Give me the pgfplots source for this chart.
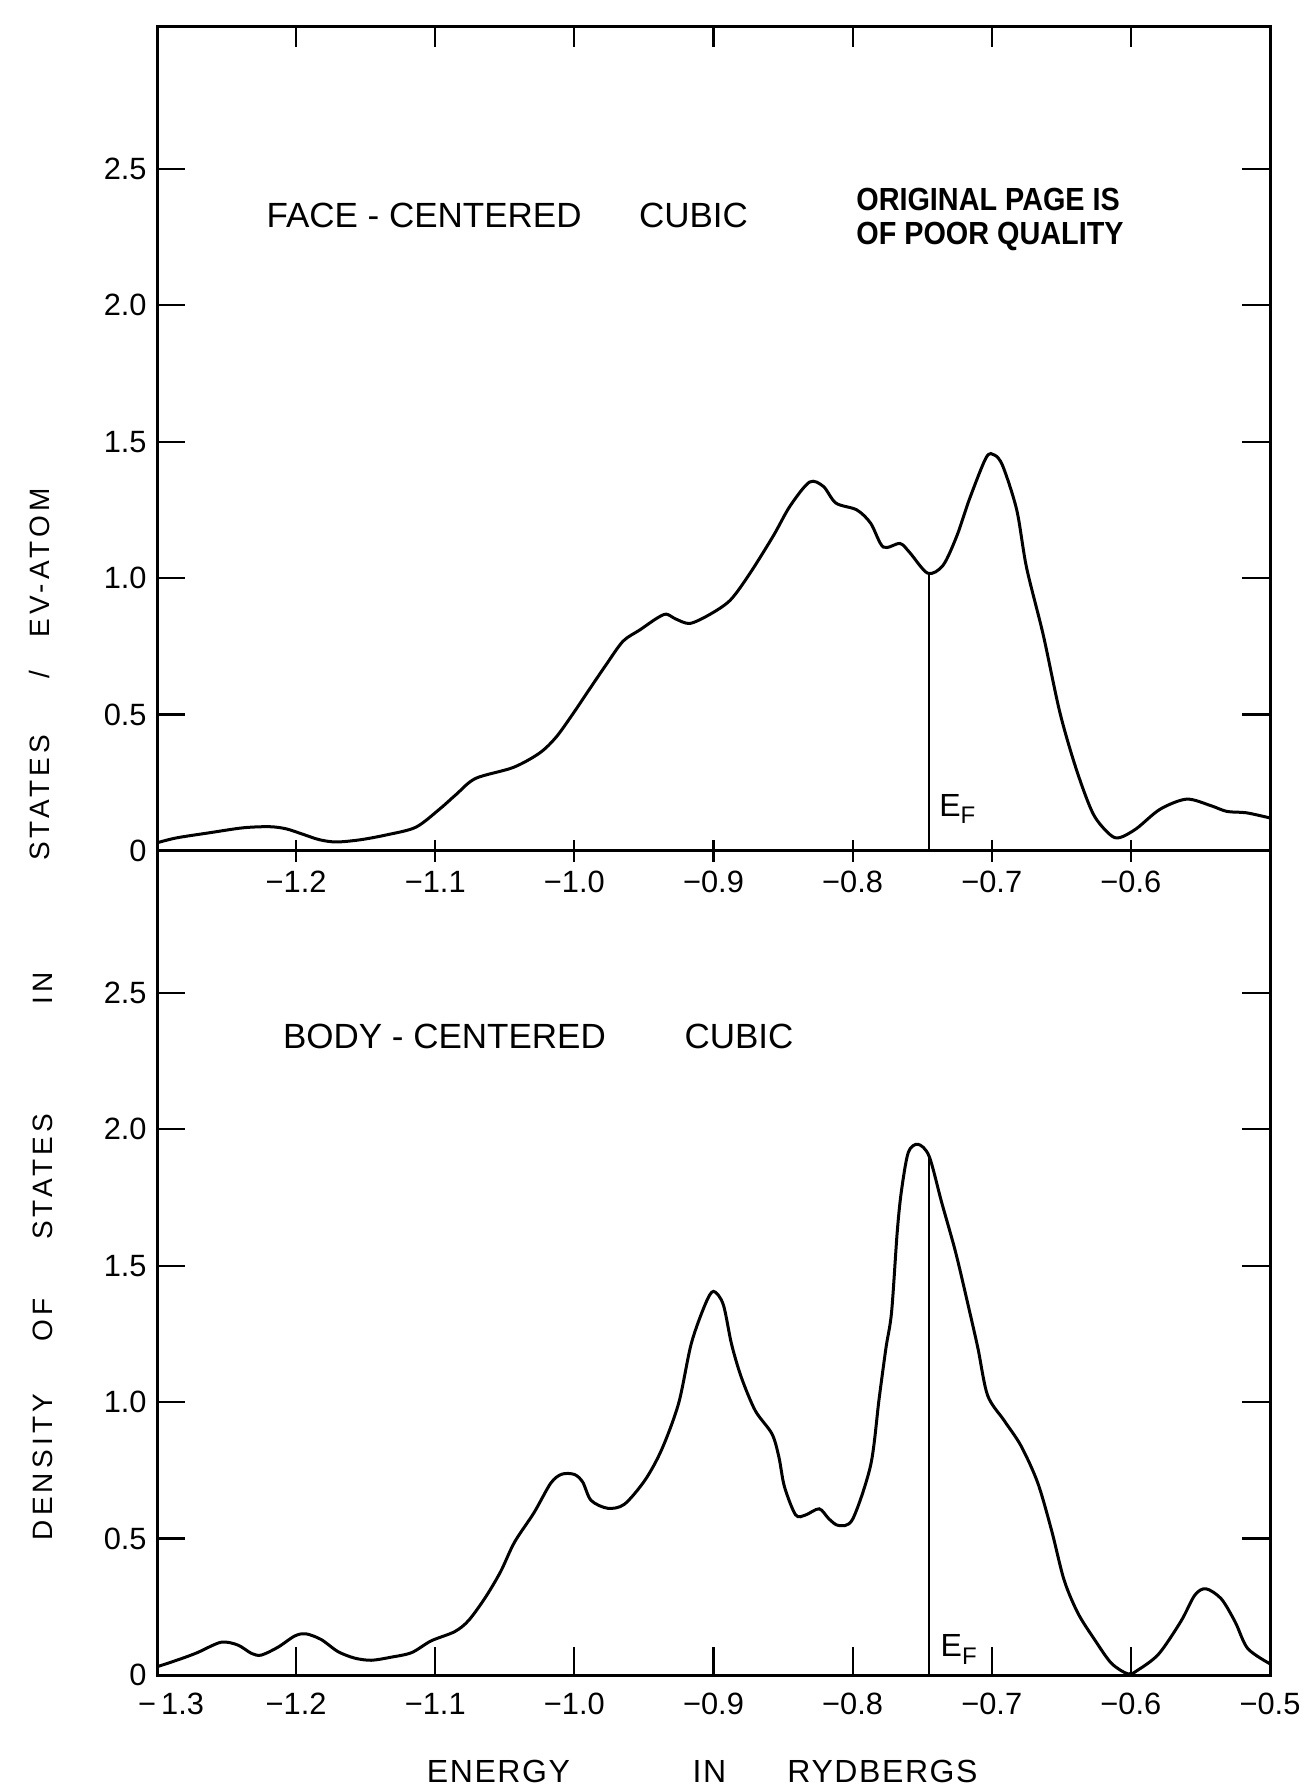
\documentclass[border=0pt]{standalone}
\usepackage{fontspec}
\setmainfont{Liberation Sans}
\newfontfamily\spaced{Liberation Sans}[LetterSpace=15]
\newfontfamily\wide{Liberation Sans}[LetterSpace=5]
\usepackage{graphicx}
\usepackage{pgfplots}
\usepackage{pgfplotstable}
\pgfplotsset{compat=1.18}

% Density of states (states / eV-atom) against energy (Ry)
\pgfplotstableread{
e      dos
-1.300 0.030
-1.286 0.048
-1.262 0.067
-1.238 0.085
-1.219 0.089
-1.207 0.081
-1.195 0.061
-1.183 0.041
-1.171 0.033
-1.154 0.041
-1.135 0.059
-1.114 0.087
-1.097 0.153
-1.085 0.207
-1.071 0.266
-1.044 0.306
-1.025 0.359
-1.013 0.418
-1.001 0.503
-0.989 0.594
-0.977 0.684
-0.965 0.769
-0.953 0.810
-0.941 0.852
-0.934 0.868
-0.927 0.850
-0.917 0.834
-0.903 0.866
-0.888 0.919
-0.874 1.016
-0.857 1.155
-0.845 1.264
-0.831 1.352
-0.821 1.336
-0.812 1.275
-0.797 1.250
-0.787 1.201
-0.778 1.114
-0.766 1.127
-0.759 1.094
-0.746 1.018
-0.735 1.047
-0.725 1.156
-0.716 1.290
-0.704 1.442
-0.698 1.451
-0.692 1.410
-0.682 1.249
-0.675 1.039
-0.663 0.792
-0.651 0.507
-0.639 0.296
-0.627 0.135
-0.615 0.060
-0.608 0.049
-0.596 0.082
-0.579 0.153
-0.560 0.190
-0.543 0.167
-0.531 0.145
-0.517 0.140
-0.500 0.121
}\fcc

\pgfplotstableread{
e      dos
-1.300 0.030
-1.283 0.059
-1.271 0.082
-1.254 0.120
-1.242 0.110
-1.232 0.079
-1.225 0.073
-1.213 0.102
-1.201 0.143
-1.193 0.151
-1.182 0.130
-1.170 0.086
-1.158 0.062
-1.146 0.054
-1.132 0.065
-1.117 0.082
-1.103 0.125
-1.086 0.159
-1.076 0.200
-1.064 0.284
-1.053 0.379
-1.043 0.487
-1.029 0.595
-1.017 0.703
-1.009 0.736
-1.000 0.735
-0.994 0.707
-0.988 0.640
-0.976 0.611
-0.964 0.626
-0.949 0.716
-0.937 0.829
-0.925 0.997
-0.916 1.214
-0.906 1.358
-0.900 1.406
-0.893 1.358
-0.887 1.212
-0.880 1.091
-0.870 0.969
-0.858 0.884
-0.853 0.799
-0.849 0.690
-0.841 0.587
-0.834 0.586
-0.824 0.609
-0.817 0.572
-0.810 0.548
-0.800 0.571
-0.787 0.770
-0.781 1.011
-0.776 1.200
-0.772 1.330
-0.768 1.620
-0.765 1.771
-0.760 1.915
-0.753 1.945
-0.745 1.901
-0.736 1.732
-0.726 1.550
-0.717 1.356
-0.710 1.199
-0.703 1.025
-0.691 0.932
-0.679 0.840
-0.667 0.705
-0.657 0.530
-0.648 0.348
-0.638 0.226
-0.626 0.129
-0.614 0.043
-0.602 0.004
-0.595 0.018
-0.580 0.077
-0.564 0.197
-0.554 0.293
-0.546 0.316
-0.535 0.279
-0.525 0.194
-0.516 0.097
-0.500 0.041
}\bcc

\newcommand{\tickfont}{\fontsize{15.4}{18}\selectfont}

\pgfplotsset{
  dosframe/.style={
    scale only axis, width=556.5pt, height=412pt,
    xmin=-1.3, xmax=-0.5, ymin=0, ymax=3.02,
    axis line style={line width=1.5pt, line cap=rect},
    tick align=inside, major tick length=14pt,
    tick style={line width=1.1pt, black},
    ytick={0,0.5,1,1.5,2,2.5},
    yticklabels={0,0.5,1.0,1.5,2.0,2.5},
    ytick pos=both, yticklabel pos=left,
    ticklabel style={font=\tickfont, inner sep=1pt},
    yticklabel style={xshift=-4pt},
    clip=false,
  },
  curve/.style={black, line width=1.5pt, smooth, tension=0.5, no markers},
}
\tikzset{
  dostitle/.style={font=\fontsize{17.5}{20}\selectfont, anchor=base},
  fermi/.style={font=\fontsize{16}{18}\selectfont, anchor=base west, inner sep=0pt},
}

\begin{document}
\begin{tikzpicture}
\useasboundingbox (0,0) rectangle (657.5pt,895.5pt);

% body-centered cubic (lower panel)
\begin{axis}[dosframe, at={(78.5pt,58pt)}, anchor=south west,
  xtick={-1.3,-1.2,-1.1,-1.0,-0.9,-0.8,-0.7,-0.6,-0.5},
  xticklabels={{},−1.2,−1.1,−1.0,−0.9,−0.8,−0.7,−0.6,−0.5},
  xtick pos=left,
  xticklabel style={yshift=-8pt}]
  \addplot[curve] table[x=e, y=dos] {\bcc};
  \draw[line width=1pt] (axis cs:-0.745,0) -- (axis cs:-0.745,1.90);
  \node[fermi] at (axis cs:-0.737,0.066) {E\raisebox{-0.45ex}{\fontsize{12}{12}\selectfont F}};
  \node[anchor=north, inner sep=1pt, font=\tickfont] at ([xshift=7pt, yshift=-8pt]axis cs:-1.3,0) {−\,1.3};
  \node[dostitle] at (axis cs:-1.0934,2.297) {BODY - CENTERED};
  \node[dostitle] at (axis cs:-0.8817,2.297) {CUBIC};
\end{axis}

% face-centered cubic (upper panel)
\begin{axis}[dosframe, at={(78.5pt,470pt)}, anchor=south west,
  xtick={-1.2,-1.1,-1.0,-0.9,-0.8,-0.7,-0.6},
  xticklabels={−1.2,−1.1,−1.0,−0.9,−0.8,−0.7,−0.6},
  xtick style={draw=none},
  xticklabel style={yshift=-9pt}]
  \addplot[curve] table[x=e, y=dos] {\fcc};
  \draw[line width=1pt] (axis cs:-0.745,0) -- (axis cs:-0.745,1.02);
  \node[fermi] at (axis cs:-0.738,0.128) {E\raisebox{-0.45ex}{\fontsize{12}{12}\selectfont F}};
  \pgfplotsinvokeforeach{-1.2,-1.1,-1.0,-0.9,-0.8,-0.7,-0.6}{
    \draw[line width=1.1pt] (axis cs:#1,3.02) -- ([yshift=-10pt]axis cs:#1,3.02);
    \draw[line width=1.1pt] ([yshift=5.5pt]axis cs:#1,0) -- ([yshift=-5.5pt]axis cs:#1,0);
  }
  \node[dostitle] at (axis cs:-1.108,2.284) {FACE - CENTERED};
  \node[dostitle] at (axis cs:-0.9144,2.284) {CUBIC};
  \node[anchor=base west, inner sep=0pt] at (axis cs:-0.7976,2.346)
    {\scalebox{0.9}[1]{\fontsize{16}{18}\selectfont\bfseries ORIGINAL PAGE IS}};
  \node[anchor=base west, inner sep=0pt] at (axis cs:-0.7976,2.221)
    {\scalebox{0.9}[1]{\fontsize{16}{18}\selectfont\bfseries OF POOR QUALITY}};
\end{axis}

% axis titles
\begin{scope}[every node/.style={inner sep=0pt, anchor=base}]
  \node[rotate=90, font=\spaced\fontsize{14}{16}\selectfont] at (26pt,162pt) {DENSITY};
  \node[rotate=90, font=\spaced\fontsize{14}{16}\selectfont] at (26pt,235.5pt) {OF};
  \node[rotate=90, font=\spaced\fontsize{14}{16}\selectfont] at (26pt,307pt) {STATES};
  \node[rotate=90, font=\spaced\fontsize{14}{16}\selectfont] at (26pt,401.5pt) {IN};
  \node[rotate=90, font=\spaced\fontsize{14}{16}\selectfont] at (25pt,496.5pt) {STATES};
  \node[rotate=90, font=\spaced\fontsize{14}{16}\selectfont] at (25pt,558pt) {/};
  \node[rotate=90, font=\spaced\fontsize{14}{16}\selectfont] at (25pt,614pt) {EV-ATOM};
  \node[font=\wide\fontsize{16}{18}\selectfont] at (249.25pt,4.5pt) {ENERGY};
  \node[font=\wide\fontsize{16}{18}\selectfont] at (354.75pt,4.5pt) {IN};
  \node[font=\wide\fontsize{16}{18}\selectfont] at (441.25pt,4.5pt) {RYDBERGS};
\end{scope}
\end{tikzpicture}
\end{document}
